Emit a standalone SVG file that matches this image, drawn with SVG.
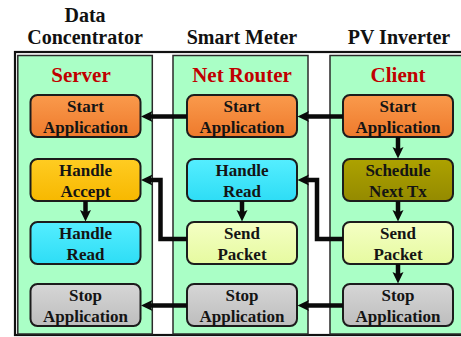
<svg xmlns="http://www.w3.org/2000/svg" width="461" height="337" viewBox="0 0 461 337">
  <style>
    .title { font-family: "Liberation Serif", "Times New Roman", serif; font-weight: bold; font-size: 20px; fill: #111; text-anchor: middle; }
    .role { font-family: "Liberation Serif", "Times New Roman", serif; font-weight: bold; font-size: 21px; fill: #C00000; text-anchor: middle; }
    .lbl { font-family: "Liberation Serif", "Times New Roman", serif; font-weight: bold; font-size: 17px; fill: #141414; text-anchor: middle; }
    .panel { fill: #AAFFC6; stroke: #2a2a2a; stroke-width: 1.5; }
    .box { stroke: #1c1c1c; stroke-width: 2; }
    .orange { fill: url(#gOrange); }
    .gold { fill: url(#gGold); }
    .cyan { fill: url(#gCyan); }
    .olive { fill: url(#gOlive); }
    .lime { fill: url(#gLime); }
    .grey { fill: url(#gGrey); }
    .wire { fill: none; stroke: #0a0a0a; stroke-width: 4.5; stroke-linejoin: miter; marker-end: url(#head); }
  </style>
  <defs>
    <linearGradient id="gOrange" x1="0" y1="0" x2="0" y2="1"><stop offset="0" stop-color="#FA9A4C"/><stop offset="1" stop-color="#EE7A2C"/></linearGradient>
    <linearGradient id="gGold" x1="0" y1="0" x2="0" y2="1"><stop offset="0" stop-color="#FFCC22"/><stop offset="1" stop-color="#F7B800"/></linearGradient>
    <linearGradient id="gCyan" x1="0" y1="0" x2="0" y2="1"><stop offset="0" stop-color="#55EEFF"/><stop offset="1" stop-color="#2EDDF5"/></linearGradient>
    <linearGradient id="gOlive" x1="0" y1="0" x2="0" y2="1"><stop offset="0" stop-color="#ADA200"/><stop offset="1" stop-color="#948A00"/></linearGradient>
    <linearGradient id="gLime" x1="0" y1="0" x2="0" y2="1"><stop offset="0" stop-color="#F4FFC4"/><stop offset="1" stop-color="#E6FAA0"/></linearGradient>
    <linearGradient id="gGrey" x1="0" y1="0" x2="0" y2="1"><stop offset="0" stop-color="#D6D6D6"/><stop offset="1" stop-color="#BDBDBD"/></linearGradient>
    <marker id="head" markerUnits="userSpaceOnUse" markerWidth="12" markerHeight="12" viewBox="0 0 12 12" refX="3" refY="6" orient="auto">
      <path d="M0,0.5 L11.5,6 L0,11.5 L2.5,6 z" fill="#0a0a0a"/>
    </marker>
  </defs>

  <!-- column headings -->
  <text class="title" x="85" y="22">Data</text>
  <text class="title" x="85" y="44">Concentrator</text>
  <text class="title" x="242" y="44">Smart Meter</text>
  <text class="title" x="399" y="44">PV Inverter</text>

  <!-- outer frame -->
  <rect x="15" y="52" width="470" height="283" fill="none" stroke="#111" stroke-width="2.2"/>

  <!-- Data Concentrator: Server -->
  <g id="server">
    <rect class="panel" x="17.8" y="55.5" width="134.5" height="278.5"/>
    <text class="role" x="81" y="82">Server</text>
  </g>
  <!-- Smart Meter: Net Router -->
  <g id="net-router">
    <rect class="panel" x="173" y="55.5" width="135" height="278.5"/>
    <text class="role" x="242" y="82">Net Router</text>
  </g>
  <!-- PV Inverter: Client -->
  <g id="client">
    <rect class="panel" x="330" y="55.5" width="140" height="278.5"/>
    <text class="role" x="398" y="82">Client</text>
  </g>

  <!-- Server states -->
  <g id="srv-start">
    <rect class="box orange" x="30.5" y="95" width="110" height="42" rx="7"/>
    <text class="lbl" x="85.5" y="112">Start</text>
    <text class="lbl" x="85.5" y="132.5">Application</text>
  </g>
  <g id="srv-accept">
    <rect class="box gold" x="30.5" y="159" width="110" height="42" rx="7"/>
    <text class="lbl" x="85.5" y="176">Handle</text>
    <text class="lbl" x="85.5" y="196.5">Accept</text>
  </g>
  <g id="srv-read">
    <rect class="box cyan" x="30.5" y="222" width="110" height="42" rx="7"/>
    <text class="lbl" x="85.5" y="239">Handle</text>
    <text class="lbl" x="85.5" y="259.5">Read</text>
  </g>
  <g id="srv-stop">
    <rect class="box grey" x="30.5" y="284" width="110" height="42" rx="7"/>
    <text class="lbl" x="85.5" y="301">Stop</text>
    <text class="lbl" x="85.5" y="321.5">Application</text>
  </g>

  <!-- Net Router states -->
  <g id="rtr-start">
    <rect class="box orange" x="187" y="95" width="110" height="42" rx="7"/>
    <text class="lbl" x="242" y="112">Start</text>
    <text class="lbl" x="242" y="132.5">Application</text>
  </g>
  <g id="rtr-read">
    <rect class="box cyan" x="187" y="159" width="110" height="42" rx="7"/>
    <text class="lbl" x="242" y="176">Handle</text>
    <text class="lbl" x="242" y="196.5">Read</text>
  </g>
  <g id="rtr-send">
    <rect class="box lime" x="187" y="222" width="110" height="42" rx="7"/>
    <text class="lbl" x="242" y="239">Send</text>
    <text class="lbl" x="242" y="259.5">Packet</text>
  </g>
  <g id="rtr-stop">
    <rect class="box grey" x="187" y="284" width="110" height="42" rx="7"/>
    <text class="lbl" x="242" y="301">Stop</text>
    <text class="lbl" x="242" y="321.5">Application</text>
  </g>

  <!-- Client states -->
  <g id="cli-start">
    <rect class="box orange" x="343" y="95" width="110" height="42" rx="7"/>
    <text class="lbl" x="398" y="112">Start</text>
    <text class="lbl" x="398" y="132.5">Application</text>
  </g>
  <g id="cli-schedule">
    <rect class="box olive" x="343" y="159" width="110" height="42" rx="7"/>
    <text class="lbl" x="398" y="176">Schedule</text>
    <text class="lbl" x="398" y="196.5">Next Tx</text>
  </g>
  <g id="cli-send">
    <rect class="box lime" x="343" y="222" width="110" height="42" rx="7"/>
    <text class="lbl" x="398" y="239">Send</text>
    <text class="lbl" x="398" y="259.5">Packet</text>
  </g>
  <g id="cli-stop">
    <rect class="box grey" x="343" y="284" width="110" height="42" rx="7"/>
    <text class="lbl" x="398" y="301">Stop</text>
    <text class="lbl" x="398" y="321.5">Application</text>
  </g>

  <!-- transitions and messages (lines stop short; arrowhead tip lands on the box edge) -->
  <g id="connectors">
    <path class="wire" d="M343,116.5 H306"/>
    <path class="wire" d="M187,116.5 H149.5"/>
    <path class="wire" d="M398,137 V150"/>
    <path class="wire" d="M398,201 V213"/>
    <path class="wire" d="M398,264 V275"/>
    <path class="wire" d="M343,239 H317 V180 H306"/>
    <path class="wire" d="M242,201 V213"/>
    <path class="wire" d="M187,239 H160.5 V180 H149.5"/>
    <path class="wire" d="M85.5,201 V213"/>
    <path class="wire" d="M343,305.5 H306"/>
    <path class="wire" d="M187,305.5 H149.5"/>
  </g>
</svg>
